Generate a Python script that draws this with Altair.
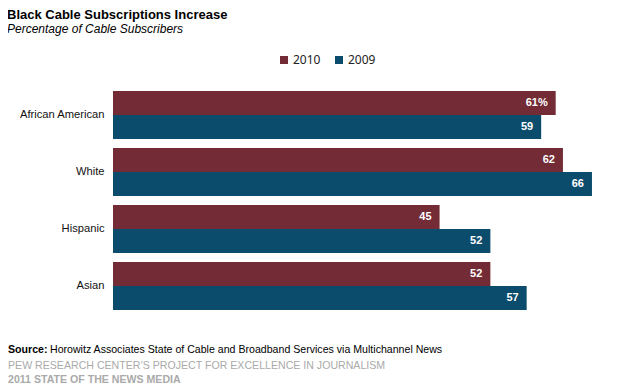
import altair as alt
import pandas as pd

categories = ["African American", "White", "Hispanic", "Asian"]
years = ["2010", "2009"]
values_2010 = [61, 62, 45, 52]
values_2009 = [59, 66, 52, 57]
colors = ["#732B36", "#0B4C6C"]

title_text = "Black Cable Subscriptions Increase"
subtitle_text = "Percentage of Cable Subscribers"
source_bold = "Source:"
source_text = "Horowitz Associates State of Cable and Broadband Services via Multichannel News"
credit1 = "PEW RESEARCH CENTER\u2019S PROJECT FOR EXCELLENCE IN JOURNALISM"
credit2 = "2011 STATE OF THE NEWS MEDIA"

rows = []
for i, c in enumerate(categories):
    for y, vals in zip(years, [values_2010, values_2009]):
        v = vals[i]
        label = f"{v}%" if (i == 0 and y == "2010") else str(v)
        rows.append({"category": c, "year": y, "value": v, "label": label})
df = pd.DataFrame(rows)

FONT = "Liberation Sans"

base = alt.Chart(df).encode(
    y=alt.Y(
        "category:N",
        sort=categories,
        scale=alt.Scale(paddingInner=9 / 57, paddingOuter=0),
        axis=alt.Axis(
            title=None, domain=False, ticks=False, grid=False, labelPadding=9,
            labelFontSize=11.2, labelColor="#111111", labelFont=FONT,
        ),
    ),
    yOffset=alt.YOffset("year:N", sort=years, scale=alt.Scale(paddingInner=0, paddingOuter=0)),
    x=alt.X("value:Q", scale=alt.Scale(domain=[0, 70], nice=False), axis=None),
)

bars = base.mark_bar().encode(
    color=alt.Color(
        "year:N",
        sort=years,
        scale=alt.Scale(domain=years, range=colors),
        legend=alt.Legend(
            title=None, orient="none", legendX=165, legendY=-37,
            direction="horizontal", symbolType="square", symbolSize=64,
            symbolStrokeWidth=0, labelFont="Noto Sans", labelFontSize=12,
            labelColor="#222222", columnPadding=12, labelOffset=3, padding=0,
        ),
    )
)

labels = base.mark_text(
    align="right", baseline="middle", dx=-8, color="white",
    fontWeight="bold", font=FONT, fontSize=11,
).encode(text="label:N")


def note(text, x, y, size, weight="normal", style="normal", color="#000000"):
    return alt.Chart(pd.DataFrame({"t": [text]})).mark_text(
        align="left", baseline="alphabetic", font=FONT, fontSize=size,
        fontWeight=weight, fontStyle=style, color=color,
    ).encode(x=alt.value(x), y=alt.value(y), text="t:N")


title = note(title_text, -106, -72, 13, weight="bold")
subtitle = note(subtitle_text, -106, -58, 12, style="italic")
src1 = note(source_bold, -105, 262, 10.6, weight="bold")
src2 = note(source_text, -63, 262, 10.6)
cr1 = note(credit1, -105, 278, 10.6, color="#AAAAAA")
cr2 = note(credit2, -105, 292, 10.6, weight="bold", color="#AAAAAA")

chart = alt.layer(bars, labels, title, subtitle, src1, src2, cr1, cr2).properties(
    width=508,
    height=219,
    background="white",
    autosize=alt.AutoSizeParams(type="none"),
    padding={"left": 105, "top": 83, "right": 1, "bottom": 74},
).configure_view(strokeWidth=0).configure_axis(grid=False)

chart.save("out.html", embed_options={"renderer": "svg", "actions": False})
